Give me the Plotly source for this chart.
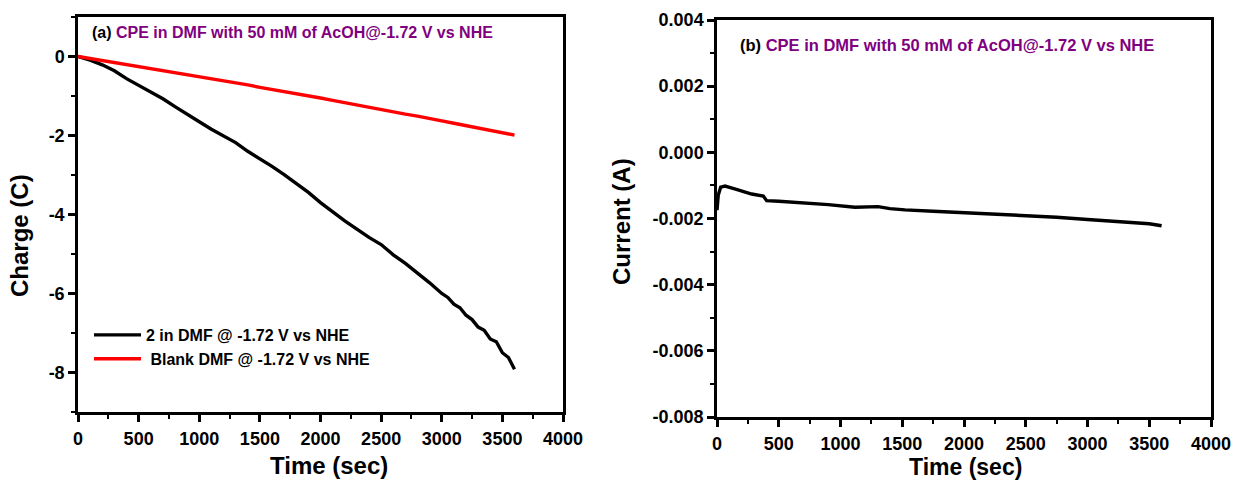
import plotly.graph_objects as go

# ---- data ----
time_a = [0, 100, 200, 300, 400, 500, 600, 700, 800, 900, 1000, 1100, 1200, 1300, 1400,
          1500, 1600, 1700, 1800, 1900, 2000, 2100, 2200, 2300, 2400, 2500, 2600, 2700,
          2800, 2900, 3000, 3050, 3100, 3150, 3200, 3250, 3300, 3350, 3400, 3450, 3500,
          3550, 3600]
charge_2 = [0, -0.09, -0.21, -0.36, -0.56, -0.73, -0.89, -1.07, -1.27, -1.47, -1.65, -1.84,
            -2.02, -2.18, -2.40, -2.58, -2.78, -2.99, -3.21, -3.44, -3.70, -3.94, -4.16,
            -4.37, -4.58, -4.76, -5.02, -5.24, -5.48, -5.73, -6.00, -6.10, -6.27, -6.36,
            -6.55, -6.66, -6.85, -6.93, -7.15, -7.22, -7.50, -7.62, -7.92]
time_blank = [0, 100, 200, 300, 400, 500, 600, 700, 800, 900, 1000, 1100, 1200, 1300, 1400,
              1500, 1600, 1700, 1800, 1900, 2000, 2100, 2200, 2300, 2400, 2500, 2600, 2700,
              2800, 2900, 3000, 3100, 3200, 3300, 3400, 3500, 3600]
charge_blank = [0, -0.05, -0.10, -0.16, -0.21, -0.26, -0.31, -0.36, -0.41, -0.46, -0.50,
                -0.56, -0.61, -0.67, -0.72, -0.78, -0.83, -0.89, -0.94, -0.99, -1.05, -1.11,
                -1.17, -1.23, -1.30, -1.36, -1.41, -1.46, -1.51, -1.56, -1.63, -1.69, -1.75,
                -1.81, -1.88, -1.94, -1.99]

time_b = [0, 10, 30, 65, 150, 281, 375, 402, 500, 712, 900, 1117, 1304, 1400, 1522, 1750,
          1981, 2250, 2500, 2750, 3000, 3250, 3500, 3600]
current_b = [-0.00175, -0.0013, -0.00105, -0.00102, -0.00111, -0.00126, -0.00132, -0.00146,
             -0.00148, -0.00152, -0.00158, -0.00166, -0.00164, -0.00170, -0.00174, -0.00178,
             -0.00182, -0.00188, -0.00192, -0.00196, -0.00203, -0.00209, -0.00216, -0.00222]

x_ticks = [0, 500, 1000, 1500, 2000, 2500, 3000, 3500, 4000]
x_labels = ["0", "500", "1000", "1500", "2000", "2500", "3000", "3500", "4000"]
ya_ticks = [0, -2, -4, -6, -8]
ya_labels = ["0", "-2", "-4", "-6", "-8"]
yb_ticks = [0.004, 0.002, 0.000, -0.002, -0.004, -0.006, -0.008]
yb_labels = ["0.004", "0.002", "0.000", "-0.002", "-0.004", "-0.006", "-0.008"]

label_a = "2 in DMF @ -1.72 V vs NHE"
label_blank = " Blank DMF @ -1.72 V vs NHE"
title_text = "CPE in DMF with 50 mM of AcOH@-1.72 V vs NHE"

FONT = "Arial, Liberation Sans, sans-serif"
PURPLE = "#800080"
W, H = 1234, 481

fig = go.Figure()
fig.add_trace(go.Scatter(x=time_a, y=charge_2, mode="lines", name=label_a,
                         line=dict(color="black", width=3.4), xaxis="x", yaxis="y"))
fig.add_trace(go.Scatter(x=time_blank, y=charge_blank, mode="lines", name=label_blank,
                         line=dict(color="#ff0000", width=3.4), xaxis="x", yaxis="y"))
fig.add_trace(go.Scatter(x=time_b, y=current_b, mode="lines", showlegend=False,
                         line=dict(color="black", width=3.4), xaxis="x2", yaxis="y2"))

def axis(**kw):
    d = dict(showline=True, linecolor="black", linewidth=2.5, mirror=True,
             ticks="outside", ticklen=7, tickwidth=2.5, tickcolor="black",
             showgrid=False, zeroline=False, automargin=False,
             tickfont=dict(family=FONT, size=18, color="black", weight="bold"))
    d.update(kw)
    return d

minor_x = dict(ticks="outside", ticklen=4, tickwidth=2, tickcolor="black", dtick=250)

title_font = dict(family=FONT, size=24, color="black", weight="bold")

def title_ann(text, x, y, angle=0, size=24):
    f = dict(title_font)
    f["size"] = size
    return dict(xref="paper", yref="paper", x=x / W, y=1 - y / H, xanchor="center",
                yanchor="middle", showarrow=False, text=text, textangle=angle,
                font=f)

fig.update_layout(
    template="none",
    width=W, height=H,
    margin=dict(l=0, r=0, t=0, b=0, autoexpand=False),
    paper_bgcolor="white", plot_bgcolor="white",
    showlegend=True,
    legend=dict(x=89 / W, y=1 - 318 / H, xanchor="left", yanchor="top",
                bgcolor="rgba(0,0,0,0)", borderwidth=0, itemwidth=47,
                font=dict(family=FONT, size=16, color="black", weight="bold")),
    xaxis=axis(domain=[78 / W, 563 / W], range=[0, 4000], tickvals=x_ticks, ticktext=x_labels,
               minor=minor_x, ticklabelstandoff=2, anchor="y"),
    yaxis=axis(domain=[1 - 412 / H, 1 - 17 / H], range=[-9, 1], tickvals=ya_ticks,
               ticktext=ya_labels,
               minor=dict(ticks="outside", ticklen=4, tickwidth=2, tickcolor="black", dtick=1),
               anchor="x"),
    xaxis2=axis(domain=[717 / W, 1211 / W], range=[0, 4000], tickvals=x_ticks, ticktext=x_labels,
                minor=minor_x, ticklabelstandoff=2, anchor="y2"),
    yaxis2=axis(domain=[1 - 417 / H, 1 - 20 / H], range=[-0.008, 0.004],
                tickvals=yb_ticks, ticktext=yb_labels,
                minor=dict(ticks="outside", ticklen=4, tickwidth=2, tickcolor="black", dtick=0.001),
                anchor="x2"),
    annotations=[
        dict(xref="paper", yref="paper", x=90 / W, y=1 - 33 / H, xanchor="left", yanchor="middle",
             showarrow=False,
             text="(a) <span style='color:%s'>%s</span>" % (PURPLE, title_text),
             font=dict(family=FONT, size=16, color="black", weight="bold")),
        dict(xref="paper", yref="paper", x=738 / W, y=1 - 45 / H, xanchor="left", yanchor="middle",
             showarrow=False,
             text="(b) <span style='color:%s'>%s</span>" % (PURPLE, title_text),
             font=dict(family=FONT, size=16.5, color="black", weight="bold")),
        title_ann("Time (sec)", 329, 465),
        title_ann("Time (sec)", 965, 467, size=23),
        title_ann("Charge (C)", 19, 236, -90),
        title_ann("Current (A)", 621, 222, -90),
    ],
)

fig.write_html("out.html")
